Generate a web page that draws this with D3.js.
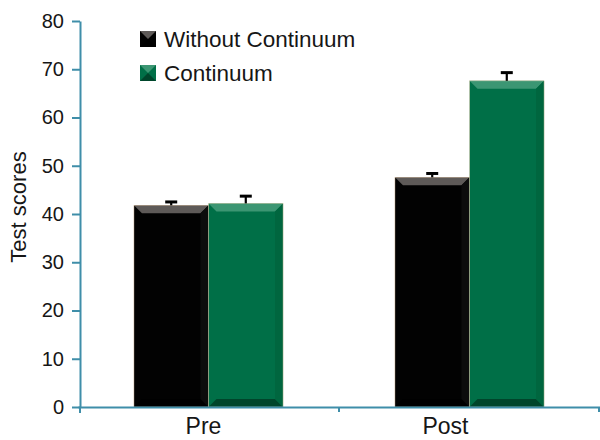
<!DOCTYPE html>
<html><head><meta charset="utf-8">
<script src="https://cdn.jsdelivr.net/npm/d3@7"></script>
<style>body{margin:0;background:#fff}svg{display:block}text{font-family:"Liberation Sans",Arial,sans-serif;fill:#161616}</style>
</head><body><svg id="c" width="600" height="440"></svg>
<script>
const categories = ["Pre", "Post"];
const series = ["Without Continuum", "Continuum"];
const withoutValues = [41.8, 47.6];
const continuumValues = [42.2, 67.6];
const withoutErrors = [0.7, 0.8];
const continuumErrors = [1.5, 1.7];
const yTicks = [0, 10, 20, 30, 40, 50, 60, 70, 80];
const yLabel = "Test scores";

const colors = {
  "Without Continuum": {base: "#020202", top: "#5e5a58", bottom: "#000000", side: "#0c0c0c"},
  "Continuum": {base: "#006f47", top: "#3c9673", bottom: "#00452b", side: "#00663f"}
};
const axisColor = "#3f8ea9";

const data = categories.map((c, i) => ({
  cat: c,
  vals: [
    {s: series[0], v: withoutValues[i], e: withoutErrors[i]},
    {s: series[1], v: continuumValues[i], e: continuumErrors[i]}
  ]
}));

const svg = d3.select("#c");
const x = d3.scaleBand().domain(categories).range([78, 600]);
const x1 = d3.scaleBand().domain(series).range([0, x.bandwidth()]).paddingOuter(0.75);
const y = d3.scaleLinear().domain([0, 80]).range([407, 21]);

// bars
const bev = 8;
const groups = svg.selectAll("g.grp").data(data).join("g").attr("class", "grp")
  .attr("transform", d => `translate(${x(d.cat)},0)`);
const bars = groups.selectAll("g.bar").data(d => d.vals).join("g").attr("class", "bar");
bars.each(function(d) {
  const g = d3.select(this);
  const x0 = x1(d.s), x2 = x0 + x1.bandwidth();
  const y0 = y(d.v), y2 = y(0);
  const c = colors[d.s];
  g.append("rect").attr("x", x0).attr("y", y0).attr("width", x2 - x0).attr("height", y2 - y0).attr("fill", c.base);
  g.append("polygon").attr("fill", c.top)
    .attr("points", [[x0, y0], [x2, y0], [x2 - bev, y0 + bev], [x0 + bev, y0 + bev]].join(" "));
  g.append("polygon").attr("fill", c.bottom)
    .attr("points", [[x0, y2], [x2, y2], [x2 - bev, y2 - bev], [x0 + bev, y2 - bev]].join(" "));
  g.append("polygon").attr("fill", c.side)
    .attr("points", [[x2, y0], [x2, y2], [x2 - bev, y2 - bev], [x2 - bev, y0 + bev]].join(" "));
  g.append("rect").attr("x", x0).attr("y", y0).attr("width", x2 - x0).attr("height", y2 - y0)
    .attr("fill", "none").attr("stroke", "#efd2b0").attr("stroke-width", 0.6).attr("opacity", 0.7);
  // error bar
  const cx = (x0 + x2) / 2;
  g.append("line").attr("x1", cx).attr("x2", cx).attr("y1", y0).attr("y2", y(d.v + d.e))
    .attr("stroke", "#000").attr("stroke-width", 2.2);
  g.append("line").attr("x1", cx - 6).attr("x2", cx + 6).attr("y1", y(d.v + d.e)).attr("y2", y(d.v + d.e))
    .attr("stroke", "#000").attr("stroke-width", 3);
});

// y axis
const yAxis = svg.append("g").attr("transform", "translate(80,0)")
  .call(d3.axisLeft(y).tickValues(yTicks).tickSize(8).tickSizeOuter(0).tickPadding(8));
yAxis.select(".domain").attr("stroke", axisColor).attr("stroke-width", 2);
yAxis.selectAll(".tick line").attr("stroke", axisColor).attr("stroke-width", 2);
yAxis.selectAll(".tick text").style("font-size", "20px").attr("fill", "#161616");
yAxis.append("line").attr("x1", 0).attr("x2", 0).attr("y1", y(0)).attr("y2", y(0) + 6)
  .attr("stroke", axisColor).attr("stroke-width", 2);

// x axis
const xAxis = svg.append("g").attr("transform", `translate(0,${y(0)})`)
  .call(d3.axisBottom(x).tickSize(0).tickSizeOuter(0).tickPadding(11));
xAxis.select(".domain").attr("stroke", axisColor).attr("stroke-width", 2);
const labelShift = {"Pre": -5, "Post": -24};
xAxis.selectAll(".tick text").style("font-size", "23px").attr("fill", "#161616")
  .attr("dx", d => labelShift[d]);
xAxis.selectAll("line.bound").data(categories.slice(1).concat(["end"])).join("line").attr("class", "bound")
  .attr("x1", d => d === "end" ? x.range()[1] - 1 : x(d)).attr("x2", d => d === "end" ? x.range()[1] - 1 : x(d))
  .attr("y1", 0).attr("y2", 5).attr("stroke", axisColor).attr("stroke-width", 2);

// y label
svg.append("text").attr("transform", "translate(26,207) rotate(-90)")
  .attr("text-anchor", "middle").style("font-size", "22px").text(yLabel);

// legend
const leg = svg.selectAll("g.leg").data(series).join("g").attr("class", "leg")
  .attr("transform", (d, i) => `translate(140,${31 + i * 34})`);
leg.each(function(d) {
  const g = d3.select(this), c = colors[d], s = 16;
  g.append("rect").attr("width", s).attr("height", s).attr("fill", c.base);
  g.append("polygon").attr("fill", c.top).attr("points", [[0, 0], [s, 0], [s / 2, s / 2]].join(" "));
  g.append("polygon").attr("fill", c.bottom).attr("points", [[0, s], [s, s], [s / 2, s / 2]].join(" "));
  g.append("text").attr("x", 24).attr("y", s / 2).attr("dy", "0.36em").style("font-size", "22.5px").text(d);
});
</script></body></html>
